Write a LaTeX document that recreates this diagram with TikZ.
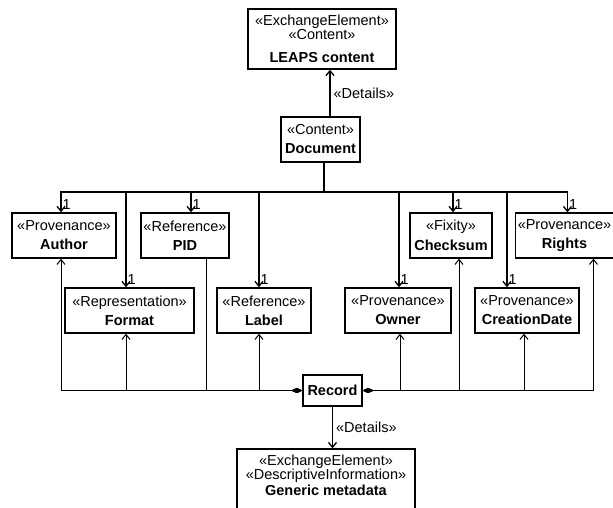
\documentclass[tikz,border=0pt]{standalone}
\usepackage{fontspec}
\setmainfont{Liberation Sans}
\usetikzlibrary{arrows.meta,positioning,calc}

\newcommand{\stereo}[1]{«#1»}

\begin{document}
\begin{tikzpicture}
  [x=1pt,y=-1pt,font=\fontsize{14.5}{13.3}\selectfont,
   class/.style={draw,line width=1.3pt,align=center,inner sep=2pt},
   nav/.style={line width=1.3pt,-{Straight Barb[length=5pt,width=8pt]}},
   part/.style={line width=1pt,{Diamond[length=11pt,width=5pt]}-},
   partnav/.style={line width=1pt,{Diamond[length=11pt,width=5pt]}-{Straight Barb[length=5pt,width=8pt]}},
   one/.style={anchor=south west,inner sep=1pt,yshift=1pt}]

  \useasboundingbox (0,0) rectangle (613,507);

  % packages on top and bottom
  \node[class,minimum width=148,minimum height=60] (leaps) at (322,39)
    {\stereo{ExchangeElement}\\\stereo{Content}\\[10pt]\textbf{LEAPS content}};
  \node[class,minimum width=79,minimum height=45] (doc) at (320.5,139.5)
    {\stereo{Content}\\[5.7pt]\textbf{Document}};
  \node[class,minimum width=59,minimum height=31] (record) at (332.5,390.5)
    {\textbf{Record}};
  \node[class,minimum width=178,minimum height=61,text depth=9pt] (generic) at (326,479.5)
    {\stereo{ExchangeElement}\\\stereo{DescriptiveInformation}\\[1pt]\textbf{Generic metadata}};

  % first row
  \node[class,minimum width=104,minimum height=45] (author) at (64,235.5)
    {\stereo{Provenance}\\[5.7pt]\textbf{Author}};
  \node[class,minimum width=88,minimum height=45] (pid) at (185,235.5)
    {\stereo{Reference}\\[5.7pt]\textbf{PID}};
  \node[class,minimum width=82,minimum height=45] (checksum) at (451,235.5)
    {\stereo{Fixity}\\[5.7pt]\textbf{Checksum}};
  \node[class,minimum width=93,minimum height=45] (rights) at (564.5,235.5)
    {\stereo{Provenance}\\[5.7pt]\textbf{Rights}};

  % second row
  \node[class,minimum width=129,minimum height=45] (format) at (129.5,310.5)
    {\stereo{Representation}\\[5.7pt]\textbf{Format}};
  \node[class,minimum width=94,minimum height=45] (label) at (264,310.5)
    {\stereo{Reference}\\[5.7pt]\textbf{Label}};
  \node[class,minimum width=106,minimum height=45] (owner) at (398,310.5)
    {\stereo{Provenance}\\[5.7pt]\textbf{Owner}};
  \node[class,minimum width=104,minimum height=45] (creation) at (527,310.5)
    {\stereo{Provenance}\\[5.7pt]\textbf{CreationDate}};

  % details links
  \draw[nav] ([xshift=9.5]doc.north) -- ([xshift=9.5]doc.north |- leaps.south)
    node[midway,right,inner sep=3pt] {\stereo{Details}};
  \draw[nav] (record.south) -- (record.south |- generic.north)
    node[midway,right,inner sep=3pt] {\stereo{Details}};

  % document owns every metadata element once
  \coordinate (bus) at (324,192);
  \draw[line width=1.3pt] ([xshift=3.5]doc.south) -- (bus);
  \foreach \n/\dx in {author/-3,format/-3.5,pid/6,label/-5,owner/1,checksum/2,creation/-20,rights/3}
    \draw[nav] (bus) -| ([xshift=\dx]\n.north) node[one] {1};

  % record aggregates them
  \foreach \n/\dx in {author/-3,format/-3.5,label/-5}
    \draw[partnav] (record.west) -| ([xshift=\dx]\n.south);
  \draw[part] (record.west) -| ([xshift=21]pid.south);
  \foreach \n/\dx in {owner/2,checksum/8,creation/-3,rights/29}
    \draw[partnav] (record.east) -| ([xshift=\dx]\n.south);

\end{tikzpicture}
\end{document}
